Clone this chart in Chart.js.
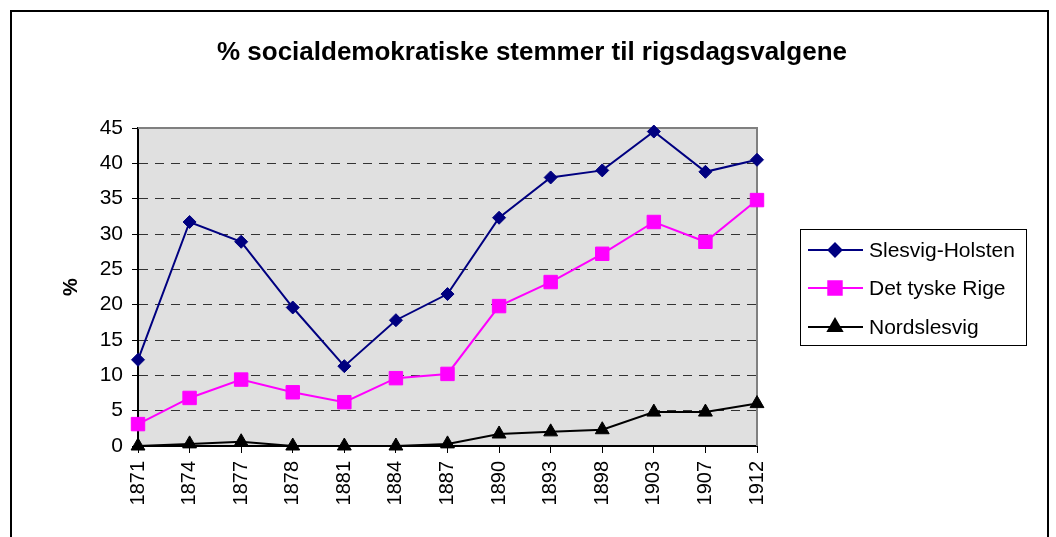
<!DOCTYPE html>
<html>
<head>
<meta charset="utf-8">
<script src="https://cdn.jsdelivr.net/npm/chart.js@4.4.1/dist/chart.umd.min.js"></script>
<style>
  html, body { margin: 0; padding: 0; background: #fff; }
  #wrap { width: 1056px; height: 537px; position: relative; }
</style>
</head>
<body>
<div id="wrap"><canvas id="chart" width="1056" height="537"></canvas></div>
<script>
// --- data ---
const years = ['1871', '1874', '1877', '1878', '1881', '1884', '1887', '1890', '1893', '1898', '1903', '1907', '1912'];
const slesvigHolsten = [12.2, 31.7, 28.9, 19.6, 11.3, 17.8, 21.5, 32.3, 38.0, 39.0, 44.5, 38.8, 40.5];
const detTyskeRige = [3.1, 6.8, 9.4, 7.6, 6.2, 9.6, 10.2, 19.8, 23.2, 27.2, 31.7, 28.9, 34.8];
const nordslesvig = [0, 0.3, 0.6, 0, 0, 0, 0.3, 1.7, 2.0, 2.3, 4.8, 4.8, 6.0];
const yTicks = [0, 5, 10, 15, 20, 25, 30, 35, 40, 45];

const titleText = '% socialdemokratiske stemmer til rigsdagsvalgene';
const FONT = '"Liberation Sans", Arial, sans-serif';

// frame, plot background, title and boxed legend
const decor = {
    id: 'decor',
    beforeDraw(chart) {
        const { ctx, chartArea: a } = chart;
        ctx.save();
        ctx.fillStyle = '#ffffff';
        ctx.fillRect(0, 0, chart.width, chart.height);
        ctx.fillStyle = '#e0e0e0';
        ctx.fillRect(a.left, a.top, a.right - a.left, a.bottom - a.top);
        // outer border
        ctx.strokeStyle = '#000';
        ctx.lineWidth = 2;
        ctx.strokeRect(11, 11, 1037, 540);
        // title
        ctx.fillStyle = '#000';
        ctx.font = 'bold 26px ' + FONT;
        ctx.textAlign = 'center';
        ctx.textBaseline = 'middle';
        ctx.fillText(titleText, 532, 53);
        ctx.restore();
    },
    beforeDatasetsDraw(chart) {
        const { ctx, chartArea: a } = chart;
        ctx.save();
        ctx.strokeStyle = '#808080';
        ctx.lineWidth = 2;
        ctx.beginPath();
        ctx.moveTo(a.left, a.top);
        ctx.lineTo(a.right, a.top);
        ctx.lineTo(a.right, a.bottom);
        ctx.stroke();
        ctx.restore();
    },
    afterDraw(chart) {
        const { ctx } = chart;
        const box = { x: 800.5, y: 229.5, w: 226, h: 116 };
        ctx.save();
        ctx.strokeStyle = '#000';
        ctx.lineWidth = 1;
        ctx.strokeRect(box.x, box.y, box.w, box.h);
        const rows = [250, 288, 327];
        chart.data.datasets.forEach((ds, i) => {
            const y = rows[i];
            ctx.strokeStyle = ds.borderColor;
            ctx.lineWidth = 2;
            ctx.beginPath();
            ctx.moveTo(808, y);
            ctx.lineTo(863, y);
            ctx.stroke();
            ctx.fillStyle = ds.pointBackgroundColor;
            ctx.strokeStyle = ds.pointBorderColor;
            Chart.helpers.drawPoint(ctx, {
                pointStyle: ds.pointStyle,
                radius: ds.pointRadius,
                borderWidth: 1,
                rotation: 0
            }, 835, y);
            ctx.fillStyle = '#000';
            ctx.font = '21px ' + FONT;
            ctx.textAlign = 'left';
            ctx.textBaseline = 'middle';
            ctx.fillText(ds.label, 869, y + 1);
        });
        ctx.restore();
    }
};

const ctx = document.getElementById('chart').getContext('2d');
const chart = new Chart(ctx, {
    type: 'line',
    data: {
        labels: years,
        datasets: [{
            label: 'Slesvig-Holsten',
            data: slesvigHolsten,
            borderColor: '#000080',
            borderWidth: 2,
            pointStyle: 'rectRot',
            pointRadius: 6.5,
            pointBackgroundColor: '#000080',
            pointBorderColor: '#000080',
            pointBorderWidth: 1,
            tension: 0,
            clip: false
        }, {
            label: 'Det tyske Rige',
            data: detTyskeRige,
            borderColor: '#ff00ff',
            borderWidth: 2,
            pointStyle: 'rect',
            pointRadius: 9.5,
            pointBackgroundColor: '#ff00ff',
            pointBorderColor: '#ff00ff',
            pointBorderWidth: 1,
            tension: 0,
            clip: false
        }, {
            label: 'Nordslesvig',
            data: nordslesvig,
            borderColor: '#000000',
            borderWidth: 2,
            pointStyle: 'triangle',
            pointRadius: 8,
            pointBackgroundColor: '#000000',
            pointBorderColor: '#000000',
            pointBorderWidth: 1,
            tension: 0,
            clip: false
        }]
    },
    options: {
        responsive: false,
        animation: false,
        devicePixelRatio: 1,
        layout: { padding: { left: 10, right: 299, top: 128, bottom: 0 } },
        plugins: {
            legend: { display: false },
            title: { display: false },
            tooltip: { enabled: false }
        },
        scales: {
            x: {
                offset: false,
                grid: {
                    drawOnChartArea: false,
                    drawTicks: true,
                    tickLength: 7,
                    tickColor: '#000',
                    tickWidth: 1
                },
                border: { display: true, color: '#000', width: 2 },
                ticks: {
                    color: '#000',
                    font: { family: FONT, size: 20 },
                    minRotation: 90,
                    maxRotation: 90,
                    padding: 8,
                    autoSkip: false
                },
                afterFit(scale) { scale.height = 91; }
            },
            y: {
                min: 0,
                max: 45,
                afterBuildTicks(scale) { scale.ticks = yTicks.map(v => ({ value: v })); },
                grid: {
                    color: c => (c.tick && (c.tick.value === 0 || c.tick.value === 45)) ? 'rgba(0,0,0,0)' : '#333',
                    lineWidth: 1,
                    drawTicks: true,
                    tickLength: 6,
                    tickColor: '#000',
                    tickWidth: 1
                },
                border: { display: true, color: '#000', width: 2, dash: [9, 7] },
                ticks: {
                    color: '#000',
                    font: { family: FONT, size: 21 },
                    padding: 9
                },
                title: {
                    display: true,
                    text: '%',
                    color: '#000',
                    font: { family: FONT, size: 20, weight: 'bold' },
                    padding: { top: 49, bottom: 0 }
                },
                afterFit(scale) { scale.width = 128; }
            }
        }
    },
    plugins: [decor]
});
</script>
</body>
</html>
